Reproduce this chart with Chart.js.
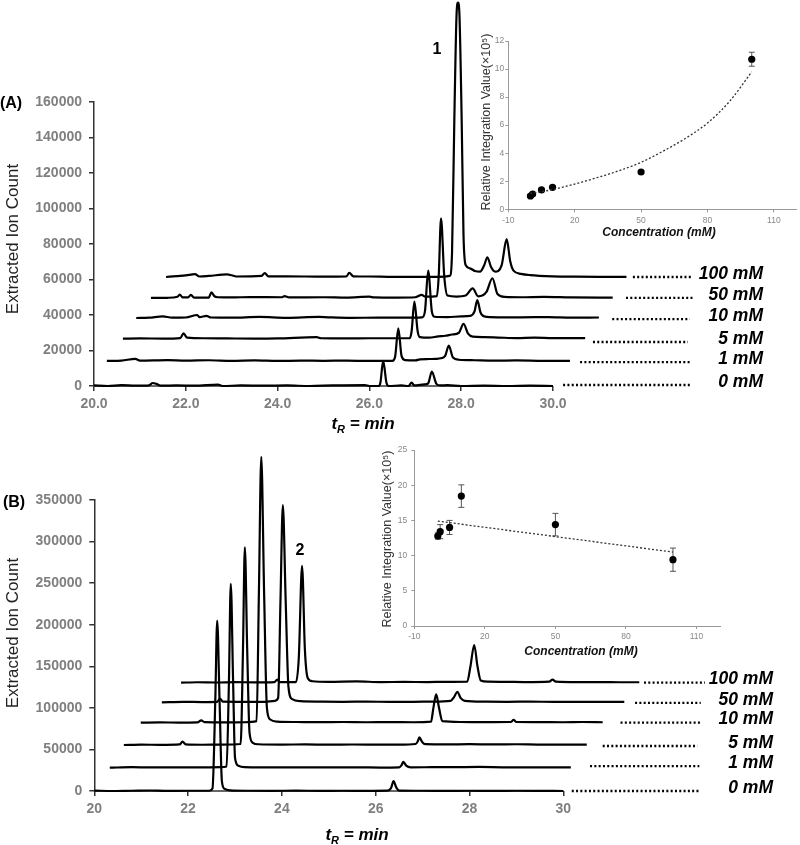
<!DOCTYPE html>
<html>
<head>
<meta charset="utf-8">
<script src="https://cdn.jsdelivr.net/npm/chart.js@4.4.0/dist/chart.umd.min.js"></script>
<style>
  html, body { margin: 0; padding: 0; background: #fff; }
  #wrap { position: relative; width: 800px; height: 845px; overflow: hidden; background: #fff; }
  canvas { position: absolute; }
</style>
</head>
<body>
<div id="wrap">
  <canvas id="mainA" width="800" height="445" style="left:0;top:0"></canvas>
  <canvas id="mainB" width="800" height="425" style="left:0;top:420px"></canvas>
  <canvas id="insetA" width="360" height="245" style="left:440px;top:0"></canvas>
  <canvas id="insetB" width="360" height="240" style="left:370px;top:425px"></canvas>
</div>
<script>
// ---- data ----
const concLabels = ['0 mM', '1 mM', '5 mM', '10 mM', '50 mM', '100 mM'];

// panel A chromatograms [tR (min), ion count]
const traceA0 = [[20.0,300],[20.3,0],[20.6,500],[20.9,200],[21.2,400],[21.28,1700],[21.36,1200],[21.45,200],[21.8,300],[22.2,200],[22.7,800],[22.8,0],[23.2,300],[23.7,200],[24.2,300],[24.7,0],[25.2,300],[25.9,500],[26.0,0],[26.2,0],[26.24,2000],[26.30,14100],[26.37,2000],[26.42,0],[26.7,300],[26.85,0],[26.92,1900],[26.98,300],[27.1,600],[27.2,900],[27.28,1500],[27.36,8100],[27.46,1200],[27.55,300],[27.7,500],[28.0,0],[28.5,200],[29.0,0],[29.5,200],[30.0,0]];
const traceA1 = [[20.28,14100],[20.6,14300],[20.9,15300],[21.0,14300],[21.6,14600],[22.0,14300],[22.5,14500],[23.0,14200],[23.5,14400],[24.0,14100],[24.5,14300],[25.0,14200],[25.5,14300],[26.0,14100],[26.5,14100],[26.56,16500],[26.63,32500],[26.70,17000],[26.78,14600],[27.0,14400],[27.1,15000],[27.3,15200],[27.45,15300],[27.55,15600],[27.65,17000],[27.73,22700],[27.82,16000],[27.95,14800],[28.3,14500],[28.7,14300],[29.2,14400],[29.8,14200],[30.37,14200]];
const traceA5 = [[20.63,26700],[21.0,26800],[21.5,26700],[21.88,27000],[21.95,29600],[22.03,27200],[22.4,26900],[22.9,26800],[23.5,26700],[24.0,26800],[24.85,27500],[24.95,26900],[25.5,26800],[26.0,26900],[26.5,26900],[26.88,27000],[26.92,31000],[26.98,47500],[27.05,31000],[27.1,27500],[27.3,27200],[27.5,28000],[27.65,28300],[27.8,29000],[27.95,30000],[28.05,35000],[28.15,29500],[28.25,27800],[28.5,27500],[28.8,27300],[29.2,27000],[29.6,27200],[30.0,27000],[30.7,27000]];
const traceA10 = [[20.92,38300],[21.2,38500],[21.5,39200],[21.7,38500],[22.0,38600],[22.25,40000],[22.3,38800],[22.45,39500],[22.55,38600],[23.0,38500],[23.6,38900],[24.2,38400],[24.9,38900],[25.1,38700],[25.6,38400],[26.2,38500],[26.8,38500],[27.15,38700],[27.21,42000],[27.28,65000],[27.36,42000],[27.42,39000],[27.7,38800],[28.0,39200],[28.2,39500],[28.29,42000],[28.35,48400],[28.42,41500],[28.5,39200],[28.8,38700],[29.3,38700],[29.9,38800],[30.4,38500],[31.0,38600]];
const traceA50 = [[21.24,49600],[21.6,49700],[21.82,50300],[21.87,51500],[21.93,49900],[22.05,49900],[22.11,51300],[22.18,49800],[22.5,49800],[22.56,52800],[22.62,50600],[22.7,50000],[23.0,49900],[23.4,50100],[24.1,50000],[24.15,50600],[24.25,49900],[25.0,50000],[25.5,49800],[26.0,50300],[26.1,49900],[26.6,49800],[27.0,50000],[27.14,51300],[27.22,50300],[27.47,50600],[27.51,62000],[27.56,94500],[27.63,62000],[27.70,51000],[27.9,50400],[28.1,51000],[28.25,55000],[28.37,50500],[28.55,53000],[28.68,60700],[28.79,51800],[28.95,50200],[29.3,50000],[29.8,50200],[30.4,49900],[31.3,49800]];
const traceA100 = [[21.57,61400],[21.8,61900],[22.0,62300],[22.2,63000],[22.3,61700],[22.5,62000],[22.9,62900],[23.0,62400],[23.1,61700],[23.65,62000],[23.72,63600],[23.8,61800],[24.2,61800],[25.0,61600],[25.5,61700],[25.56,63800],[25.65,61800],[26.0,61700],[26.5,61500],[27.0,61500],[27.5,61500],[27.75,62000],[27.8,75000],[27.85,150000],[27.9,210000],[27.93,216000],[27.96,210000],[28.01,150000],[28.05,85000],[28.1,68000],[28.19,66300],[28.3,64800],[28.41,64400],[28.5,68000],[28.57,72500],[28.65,67000],[28.74,64400],[28.88,68000],[28.99,82700],[29.07,70000],[29.14,65000],[29.3,63200],[29.5,62500],[30.0,61800],[30.5,61600],[31.0,61500],[31.6,61500]];
const tracesA = [traceA0, traceA1, traceA5, traceA10, traceA50, traceA100];
const leadStartA = [30.22, 30.59, 30.87, 31.29, 31.59, 31.74];
const leadEndA = [32.98, 32.98, 32.94, 32.98, 33.05, 33.05];
const leadLevelA = [560, 13500, 24800, 37700, 49600, 61400];
const xTicksA = [20, 22, 24, 26, 28, 30];
const xLabelsA = ['20.0', '22.0', '24.0', '26.0', '28.0', '30.0'];
const yTicksA = [0, 20000, 40000, 60000, 80000, 100000, 120000, 140000, 160000];

// panel B chromatograms
const traceB0 = [[20.0,500],[20.4,0],[20.8,300],[21.2,600],[21.5,200],[22.0,300],[22.45,300],[22.52,3000],[22.58,110000],[22.62,204900],[22.67,110000],[22.72,12000],[22.78,2500],[22.9,800],[23.3,300],[23.8,200],[24.3,400],[24.8,200],[25.3,300],[25.8,200],[26.25,400],[26.33,4000],[26.38,12000],[26.44,4000],[26.5,500],[27.0,300],[27.5,200],[28.0,300],[28.5,200],[29.0,300],[29.5,200],[30.0,0]];
const traceB1 = [[20.33,28000],[20.8,28600],[21.2,28300],[21.7,28500],[22.2,28300],[22.7,28600],[22.82,29500],[22.87,130000],[22.91,249000],[22.96,130000],[23.0,40000],[23.07,30500],[23.2,28800],[23.6,28500],[24.1,28300],[24.6,28500],[25.1,28300],[25.6,28400],[26.1,28200],[26.5,28400],[26.55,31000],[26.59,35000],[26.65,30500],[26.75,28500],[27.2,28600],[27.7,28700],[28.2,28900],[28.7,28500],[29.2,28400],[29.7,28500],[30.16,28300]];
const traceB5 = [[20.63,55300],[21.0,55800],[21.4,55500],[21.82,56000],[21.88,59400],[21.95,56000],[22.3,55600],[22.7,55800],[23.12,56500],[23.17,170000],[23.21,293200],[23.26,170000],[23.31,70000],[23.38,58000],[23.5,56200],[24.0,55800],[24.5,56000],[25.0,55700],[25.5,55900],[26.0,55800],[26.5,55700],[26.85,56500],[26.9,60000],[26.93,64600],[26.99,59000],[27.06,56300],[27.5,56000],[28.0,56300],[28.5,56000],[29.0,56200],[29.5,55800],[30.0,55800],[30.5,55800]];
const traceB10 = [[20.99,82200],[21.4,82500],[21.8,82300],[22.2,82600],[22.28,85000],[22.35,82800],[22.8,82500],[23.2,82700],[23.46,84000],[23.51,240000],[23.56,402000],[23.62,240000],[23.68,100000],[23.75,86000],[23.9,83500],[24.3,83000],[24.8,82800],[25.3,83000],[25.8,82700],[26.3,82800],[26.8,82700],[27.18,83500],[27.23,100000],[27.29,116300],[27.35,100000],[27.42,84000],[27.8,83000],[28.3,82800],[28.88,83000],[28.94,85500],[29.0,83000],[29.5,82800],[30.0,82700],[30.4,83000],[30.84,82700]];
const traceB50 = [[21.44,106700],[21.9,107200],[22.3,107000],[22.62,107200],[22.68,111000],[22.74,107500],[23.2,107300],[23.6,107200],[23.85,108500],[23.92,112000],[23.97,230000],[24.02,344000],[24.08,230000],[24.14,125000],[24.22,110500],[24.4,108000],[24.8,107500],[25.3,107300],[25.8,107500],[26.3,107200],[26.8,107300],[27.2,107500],[27.6,108500],[27.67,113000],[27.74,119400],[27.81,112000],[27.9,108500],[28.3,107500],[28.8,107300],[29.3,107500],[29.8,107200],[30.3,107300],[30.8,107200],[31.3,107200]];
const traceB100 = [[21.85,130300],[22.2,130800],[22.6,130500],[23.0,131000],[23.4,130600],[23.84,131000],[23.9,134000],[23.96,131000],[24.3,131000],[24.36,160000],[24.43,270700],[24.49,170000],[24.55,136000],[24.65,132000],[25.0,131300],[25.6,131800],[26.1,131000],[26.6,131200],[27.1,131000],[27.5,131300],[27.95,131500],[28.02,150000],[28.1,175600],[28.17,150000],[28.24,133000],[28.4,131500],[28.8,131300],[29.2,131000],[29.7,131500],[29.77,134000],[29.84,131500],[30.3,131000],[30.8,131000],[31.2,130800],[31.62,130800]];
const tracesB = [traceB0, traceB1, traceB5, traceB10, traceB50, traceB100];
const leadStartB = [30.18, 30.57, 30.84, 31.22, 31.53, 31.72];
const leadEndB = [32.9, 32.9, 32.86, 32.93, 32.93, 33.02];
const leadLevelB = [0, 30000, 54100, 82200, 105900, 130300];
const xTicksB = [20, 22, 24, 26, 28, 30];
const xLabelsB = ['20', '22', '24', '26', '28', '30'];
const yTicksB = [0, 50000, 100000, 150000, 200000, 250000, 300000, 350000];

// insets: concentration (mM) vs relative integration value (x10^5)
const concA = [0, 1, 5, 10, 50, 100];
const areaA = [0.95, 1.09, 1.38, 1.57, 2.66, 10.7];
const errA = [0.08, 0.08, 0.08, 0.1, 0.08, 0.5];
const trendConcA = [0, 10, 20, 30, 40, 50, 60, 70, 80, 90, 100];
const trendAreaA = [1.14, 1.4, 1.8, 2.25, 2.75, 3.35, 4.15, 5.05, 6.15, 7.7, 9.8];
const insetYTicksA = [0, 2, 4, 6, 8, 10, 12];

const concB = [0, 1, 5, 10, 50, 100];
const areaB = [12.78, 13.4, 14.0, 18.45, 14.4, 9.42];
const errB = [0.45, 1.0, 1.0, 1.6, 1.6, 1.65];
const trendConcB = [0, 100];
const trendAreaB = [14.9, 10.5];
const insetYTicksB = [0, 5, 10, 15, 20, 25];
const insetXTicks = [-10, 20, 50, 80, 110];

// ---- drawing ----
const FONT = '"Liberation Sans", Arial, sans-serif';
Chart.defaults.font.family = FONT;
const axisCol = '#333';
const tickGray = '#7f7f7f';

function drawTR(ctx, cx, baseY) {
  const big = 'italic bold 17px ' + FONT, small = 'italic bold 11px ' + FONT;
  ctx.font = big; const w1 = ctx.measureText('t').width; const w3 = ctx.measureText(' = min').width;
  ctx.font = small; const w2 = ctx.measureText('R').width;
  let x = cx - (w1 + w2 + w3) / 2;
  ctx.textAlign = 'left'; ctx.textBaseline = 'alphabetic'; ctx.fillStyle = '#000';
  ctx.font = big; ctx.fillText('t', x, baseY); x += w1;
  ctx.font = small; ctx.fillText('R', x, baseY + 4); x += w2;
  ctx.font = big; ctx.fillText(' = min', x, baseY);
}

function vText(ctx, txt, cx, cy, font, color) {
  ctx.save();
  ctx.translate(cx, cy); ctx.rotate(-Math.PI / 2);
  ctx.font = font; ctx.fillStyle = color; ctx.textAlign = 'center'; ctx.textBaseline = 'middle';
  ctx.fillText(txt, 0, 0);
  ctx.restore();
}

function mainChart(id, p) {
  const ds = p.traces.map(tr => ({
    data: tr.map(([x, y]) => ({x, y})),
    borderColor: '#000', borderWidth: 2.2, pointRadius: 0, fill: false,
    cubicInterpolationMode: 'monotone', clip: false
  }));
  p.leadStart.forEach((s, i) => ds.push({
    data: [{x: s, y: p.leadLevel[i]}, {x: p.leadEnd[i], y: p.leadLevel[i]}],
    borderColor: '#000', borderWidth: 2.3, borderDash: [2, 2.3], borderCapStyle: 'butt',
    pointRadius: 0, clip: false
  }));
  const txt = {
    id: 'txt',
    beforeDatasetsDraw(chart) {
      // x axis line only spans the ticked range
      const ctx = chart.ctx, xs = chart.scales.x, y = chart.chartArea.bottom;
      ctx.save(); ctx.strokeStyle = axisCol; ctx.lineWidth = 1.5;
      ctx.beginPath();
      ctx.moveTo(xs.getPixelForValue(p.xTicks[0]), y);
      ctx.lineTo(xs.getPixelForValue(p.xTicks[p.xTicks.length - 1]), y);
      ctx.stroke(); ctx.restore();
    },
    afterDraw(chart) {
      const ctx = chart.ctx, ys = chart.scales.y;
      ctx.save();
      ctx.font = 'italic bold 17.5px ' + FONT; ctx.fillStyle = '#000';
      ctx.textAlign = 'right'; ctx.textBaseline = 'middle';
      concLabels.forEach((l, i) => ctx.fillText(l, p.labelRight, ys.getPixelForValue(p.leadLevel[i]) - 3));
      vText(ctx, 'Extracted Ion Count', 13, p.yTitleY, '17px ' + FONT, '#222');
      drawTR(ctx, p.tTitleX, p.tTitleY);
      ctx.font = 'bold 16px ' + FONT; ctx.textAlign = 'center'; ctx.fillStyle = '#000';
      ctx.fillText(p.panel, p.panelX, p.panelY);
      ctx.fillText(p.peakNum, p.peakX, p.peakY);
      ctx.restore();
    }
  };
  return new Chart(document.getElementById(id), {
    type: 'line',
    data: {datasets: ds},
    options: {
      responsive: false, animation: false, devicePixelRatio: 1,
      layout: {padding: {left: 0, top: p.padTop, right: p.padRight, bottom: 0}},
      plugins: {legend: {display: false}, tooltip: {enabled: false}},
      scales: {
        x: {
          type: 'linear', min: 20, max: p.xMax,
          afterBuildTicks: s => { s.ticks = p.xTicks.map(v => ({value: v})); },
          afterFit: s => { s.height = p.xAxisH; },
          ticks: {callback: (v, i) => p.xLabels[i], color: tickGray, font: {size: 14, weight: 'bold'},
                  padding: 5, maxRotation: 0, autoSkip: false},
          grid: {drawOnChartArea: false, tickLength: 5, color: axisCol, lineWidth: 1.5},
          border: {display: false}
        },
        y: {
          type: 'linear', min: 0, max: p.yTicks[p.yTicks.length - 1],
          afterBuildTicks: s => { s.ticks = p.yTicks.map(v => ({value: v})); },
          afterFit: s => { s.width = p.yAxisW; },
          ticks: {callback: v => String(v), color: tickGray, font: {size: 14, weight: 'bold'}, padding: 7, autoSkip: false},
          grid: {drawOnChartArea: false, tickLength: 5, color: axisCol, lineWidth: 1.5},
          border: {color: axisCol, width: 1.5}
        }
      }
    },
    plugins: [txt]
  });
}

function insetChart(id, p) {
  const errPlugin = {
    id: 'err',
    beforeDatasetsDraw(chart) {
      const ctx = chart.ctx, xs = chart.scales.x, ys = chart.scales.y;
      ctx.save(); ctx.strokeStyle = '#555'; ctx.lineWidth = 1;
      p.conc.forEach((c, i) => {
        const x = xs.getPixelForValue(c);
        const y1 = ys.getPixelForValue(p.area[i] + p.err[i]), y2 = ys.getPixelForValue(p.area[i] - p.err[i]);
        ctx.beginPath();
        ctx.moveTo(x, y1); ctx.lineTo(x, y2);
        ctx.moveTo(x - 3, y1); ctx.lineTo(x + 3, y1);
        ctx.moveTo(x - 3, y2); ctx.lineTo(x + 3, y2);
        ctx.stroke();
      });
      ctx.restore();
    },
    afterDraw(chart) {
      const ctx = chart.ctx;
      vText(ctx, 'Relative Integration Value(\u00d710\u2075)', p.yTitleX, p.yTitleY, '12.5px ' + FONT, '#333');
      ctx.save();
      ctx.font = 'italic bold 12px ' + FONT; ctx.fillStyle = '#111';
      ctx.textAlign = 'center'; ctx.textBaseline = 'middle';
      ctx.fillText('Concentration (mM)', p.xTitleX, p.xTitleY);
      ctx.restore();
    }
  };
  return new Chart(document.getElementById(id), {
    type: 'scatter',
    data: {datasets: [
      {type: 'line', data: p.trendX.map((x, i) => ({x, y: p.trendY[i]})), borderColor: '#333', borderWidth: 1.3,
       borderDash: [2, 2], pointRadius: 0, fill: false, cubicInterpolationMode: 'monotone'},
      {type: 'scatter', data: p.conc.map((x, i) => ({x, y: p.area[i]})), pointRadius: 3.6,
       backgroundColor: '#000', borderColor: '#000', borderWidth: 0}
    ]},
    options: {
      responsive: false, animation: false, devicePixelRatio: 1,
      layout: {padding: {left: 0, top: p.padTop, right: p.padRight, bottom: 0}},
      plugins: {legend: {display: false}, tooltip: {enabled: false}},
      scales: {
        x: {
          type: 'linear', min: -10, max: 120,
          afterBuildTicks: s => { s.ticks = insetXTicks.map(v => ({value: v})); },
          afterFit: s => { s.height = p.xAxisH; },
          ticks: {color: '#888', font: {size: 8.5}, padding: 3, maxRotation: 0, autoSkip: false},
          grid: {drawOnChartArea: false, tickLength: 3, color: '#999', lineWidth: 1},
          border: {color: '#999', width: 1}
        },
        y: {
          type: 'linear', min: 0, max: p.yTicks[p.yTicks.length - 1],
          afterBuildTicks: s => { s.ticks = p.yTicks.map(v => ({value: v})); },
          afterFit: s => { s.width = p.yAxisW; },
          ticks: {color: '#888', font: {size: 8.5}, padding: p.yPad, autoSkip: false},
          grid: {drawOnChartArea: false, tickLength: 3, color: '#999', lineWidth: 1},
          border: {color: '#999', width: 1}
        }
      }
    },
    plugins: [errPlugin]
  });
}

mainChart('mainA', {
  traces: tracesA, leadStart: leadStartA, leadEnd: leadEndA, leadLevel: leadLevelA,
  xTicks: xTicksA, xLabels: xLabelsA, yTicks: yTicksA, xMax: 33.2,
  padTop: 102, padRight: 100.1, xAxisH: 445 - 386, yAxisW: 94,
  labelRight: 763, yTitleY: 239, tTitleX: 363, tTitleY: 429,
  panel: '(A)', panelX: 11, panelY: 108, peakNum: '1', peakX: 437, peakY: 54
});
mainChart('mainB', {
  traces: tracesB, leadStart: leadStartB, leadEnd: leadEndB, leadLevel: leadLevelB,
  xTicks: xTicksB, xLabels: xLabelsB, yTicks: yTicksB, xMax: 33.2,
  padTop: 80, padRight: 86.6, xAxisH: 425 - 371, yAxisW: 94.3,
  labelRight: 773, yTitleY: 213, tTitleX: 357, tTitleY: 420,
  panel: '(B)', panelX: 14, panelY: 87, peakNum: '2', peakX: 300, peakY: 135
});
insetChart('insetA', {
  conc: concA, area: areaA, err: errA, trendX: trendConcA, trendY: trendAreaA, yTicks: insetYTicksA,
  padTop: 41, padRight: 2, xAxisH: 245 - 209.3, yAxisW: 68.3, yPad: 1,
  yTitleX: 47, yTitleY: 122, xTitleX: 219, xTitleY: 233
});
insetChart('insetB', {
  conc: concB, area: areaB, err: errB, trendX: trendConcB, trendY: trendAreaB, yTicks: insetYTicksB,
  padTop: 25, padRight: 10, xAxisH: 240 - 201, yAxisW: 44.3, yPad: 4,
  yTitleX: 18, yTitleY: 114, xTitleX: 211, xTitleY: 227
});
</script>
</body>
</html>
